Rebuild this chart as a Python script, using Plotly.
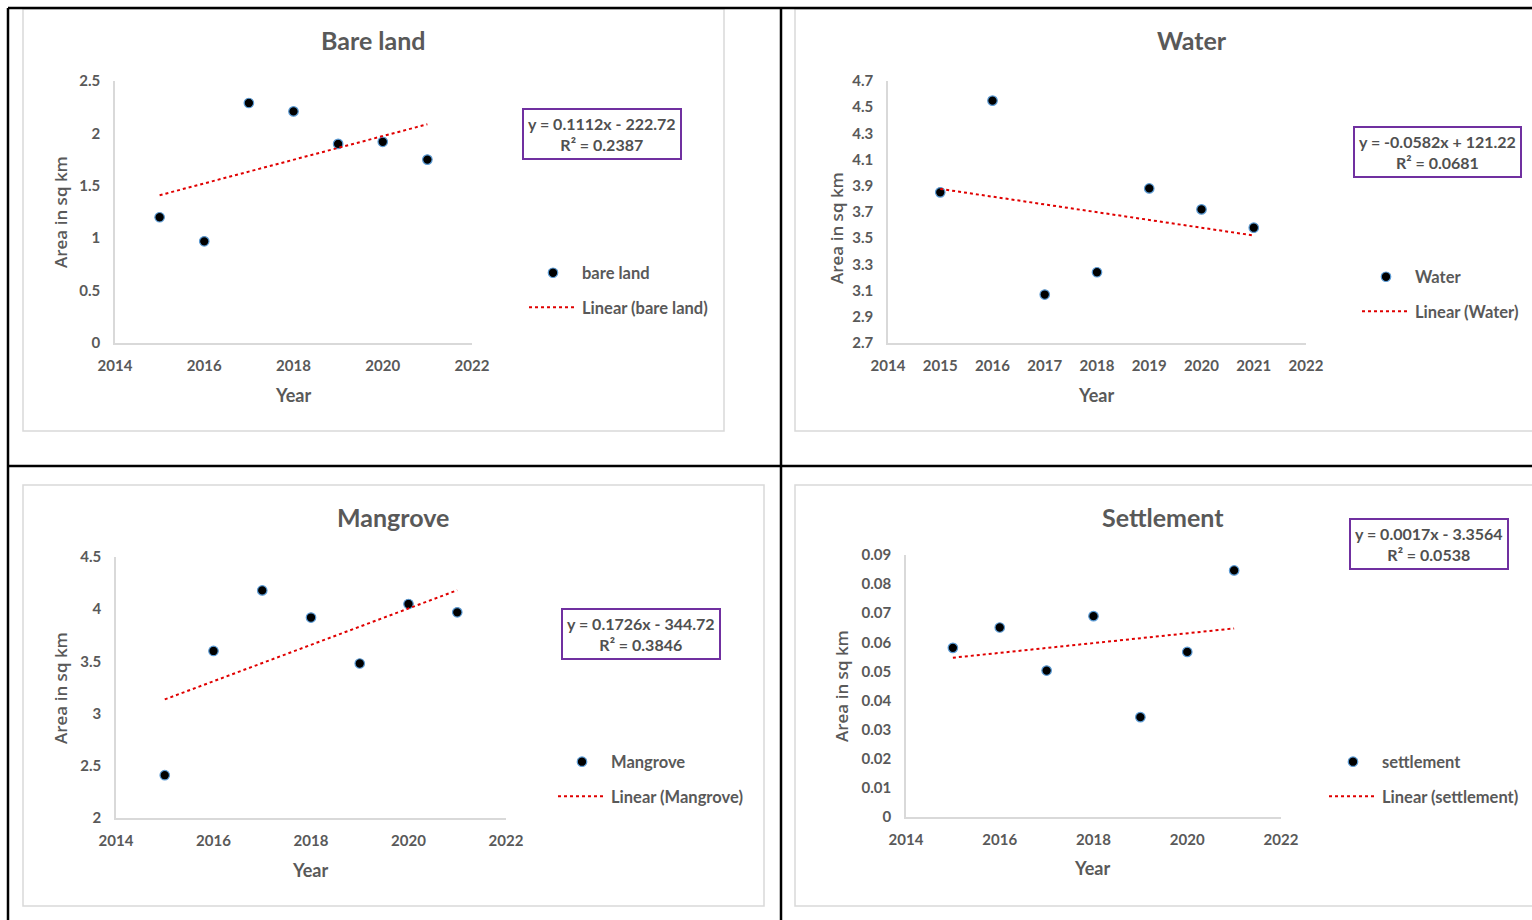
import numpy as np
import plotly.graph_objects as go

W, H = 1532, 920

# ---------------- data ----------------
years = [2015, 2016, 2017, 2018, 2019, 2020, 2021]
bare_land = [1.20, 0.97, 2.29, 2.21, 1.90, 1.92, 1.75]
water = [3.85, 4.55, 3.07, 3.24, 3.88, 3.72, 3.58]
mangrove = [2.41, 3.60, 4.18, 3.92, 3.48, 4.05, 3.97]
settlement = [0.0581, 0.0651, 0.0503, 0.0690, 0.0343, 0.0567, 0.0847]

titles = ["Bare land", "Water", "Mangrove", "Settlement"]
series_names = ["bare land", "Water", "Mangrove", "settlement"]
equations = ["y = 0.1112x - 222.72", "y = -0.0582x + 121.22",
             "y = 0.1726x - 344.72", "y = 0.0017x - 3.3564"]
r_squared = ["R² = 0.2387", "R² = 0.0681", "R² = 0.3846", "R² = 0.0538"]
x_ranges = [[2014, 2022], [2014, 2022], [2014, 2022], [2014, 2022]]
x_dticks = [2, 1, 2, 2]
y_ranges = [[0, 2.5], [2.7, 4.7], [2, 4.5], [0, 0.09]]
y_dticks = [0.5, 0.2, 0.5, 0.01]
x_title = "Year"
y_title = "Area in sq km"

all_series = [bare_land, water, mangrove, settlement]

# ---------------- layout geometry (pixels) ----------------
plot_boxes = [  # x0, x1, ytop, ybottom
    (115, 472, 81, 343),
    (888, 1306, 81, 343),
    (116, 506, 557, 818),
    (906, 1281, 555, 817),
]
frames = [(23, 9, 724, 431), (795, 9, 1540, 431), (23, 485, 764, 906), (795, 485, 1540, 906)]
title_pos = [(373, 40), (1192, 40), (393, 517), (1163, 517)]
ytitle_pos = [(60, 212), (836, 228), (60, 688), (841, 686)]
xtitle_pos = [(293, 395), (1096, 395), (310, 870), (1092, 868)]
eq_pos = [(602, 134), (1437, 152), (641, 634), (1429, 544)]
legend_pos = [(524, 290), (1357, 294), (553, 779), (1324, 779)]

FONT = "Lato, 'Open Sans', sans-serif"
GRAY = "#595959"


def px(x):
    return x / W


def py(y):
    return 1 - y / H


fig = go.Figure()
annotations = []
shapes = []

for i in range(4):
    n = "" if i == 0 else str(i + 1)
    xa, ya = "x" + n, "y" + n
    vals = all_series[i]
    leg = "legend" if i == 0 else "legend" + str(i + 1)

    fig.add_trace(go.Scatter(
        x=years, y=vals, mode="markers", name=series_names[i],
        xaxis=xa, yaxis=ya, legend=leg, legendgroup="pts" + n,
        marker=dict(size=9.5, color="black", line=dict(color="#5B9BD5", width=1.2)),
        showlegend=True,
    ))
    slope, icpt = np.polyfit(years, vals, 1)
    tx = [years[0], years[-1]]
    ty = [slope * t + icpt for t in tx]
    fig.add_trace(go.Scatter(
        x=tx, y=ty, mode="lines", name="Linear (" + series_names[i] + ")",
        xaxis=xa, yaxis=ya, legend=leg, legendgroup="fit" + n,
        line=dict(color="#E00000", width=2, dash="dot"),
        showlegend=True,
    ))

    x0, x1, yt, yb = plot_boxes[i]
    tickfont = dict(family=FONT, size=15, color=GRAY, weight="bold")
    fig.update_layout(**{
        ("xaxis" + n): dict(
            domain=[px(x0), px(x1)], range=x_ranges[i], dtick=x_dticks[i], tick0=2014,
            anchor=ya, showline=True, linecolor="#D9D9D9", linewidth=1.5,
            showgrid=False, zeroline=False, ticks="outside", ticklen=8,
            tickcolor="rgba(0,0,0,0)", tickfont=tickfont, automargin=False,
        ),
        ("yaxis" + n): dict(
            domain=[py(yb), py(yt)], range=y_ranges[i], dtick=y_dticks[i], tick0=y_ranges[i][0],
            anchor=xa, showline=True, linecolor="#D9D9D9", linewidth=1.5,
            showgrid=False, zeroline=False, ticks="outside", ticklen=10,
            tickcolor="rgba(0,0,0,0)", tickfont=tickfont, automargin=False,
        ),
        leg: dict(
            x=px(legend_pos[i][0]), y=py(legend_pos[i][1]), xanchor="left", yanchor="middle",
            font=dict(family=FONT, size=16.5, color=GRAY, weight="bold"), bgcolor="rgba(0,0,0,0)",
            tracegroupgap=10, itemwidth=48, traceorder="grouped",
        ),
    })

    # chart title
    annotations.append(dict(x=px(title_pos[i][0]), y=py(title_pos[i][1]), xref="paper", yref="paper",
                            xanchor="center", yanchor="middle",
                            text="<b>" + titles[i] + "</b>", showarrow=False,
                            font=dict(family=FONT, size=25, color=GRAY)))
    # axis titles
    annotations.append(dict(x=px(ytitle_pos[i][0]), y=py(ytitle_pos[i][1]), xref="paper", yref="paper",
                            xanchor="center", yanchor="middle",
                            text=y_title, textangle=-90, showarrow=False,
                            font=dict(family="'Open Sans', sans-serif", size=17, color=GRAY, weight=600)))
    annotations.append(dict(x=px(xtitle_pos[i][0]), y=py(xtitle_pos[i][1]), xref="paper", yref="paper",
                            xanchor="center", yanchor="middle",
                            text="<b>" + x_title + "</b>", showarrow=False,
                            font=dict(family=FONT, size=18, color=GRAY)))
    # trendline equation box
    annotations.append(dict(x=px(eq_pos[i][0]), y=py(eq_pos[i][1]), xref="paper", yref="paper",
                            text="<b>" + equations[i] + "<br>" + r_squared[i] + "</b>", showarrow=False,
                            font=dict(family=FONT, size=16, color="#505050"),
                            bordercolor="#7030A0", borderwidth=2, borderpad=4,
                            bgcolor="white", xanchor="center", yanchor="middle"))
    # light gray chart frame
    fx0, fy0, fx1, fy1 = frames[i]
    shapes.append(dict(type="rect", xref="paper", yref="paper",
                       x0=px(fx0), x1=px(fx1), y0=py(fy1), y1=py(fy0),
                       line=dict(color="#D9D9D9", width=1.5), layer="below"))

# black table borders
for (a, b, c, d) in [(8, 8, 1532, 8), (8, 466, 1532, 466), (8, 8, 8, 920), (781, 8, 781, 920)]:
    shapes.append(dict(type="line", xref="paper", yref="paper",
                       x0=px(a), y0=py(b), x1=px(c), y1=py(d),
                       line=dict(color="black", width=2.5)))

fig.update_layout(
    width=W, height=H, margin=dict(l=0, r=0, t=0, b=0, autoexpand=False),
    paper_bgcolor="white", plot_bgcolor="white",
    annotations=annotations, shapes=shapes, showlegend=True,
)

fig.write_html("out.html", config={"displayModeBar": False},
               post_script="document.body.style.margin='0';document.body.style.overflow='hidden';")
